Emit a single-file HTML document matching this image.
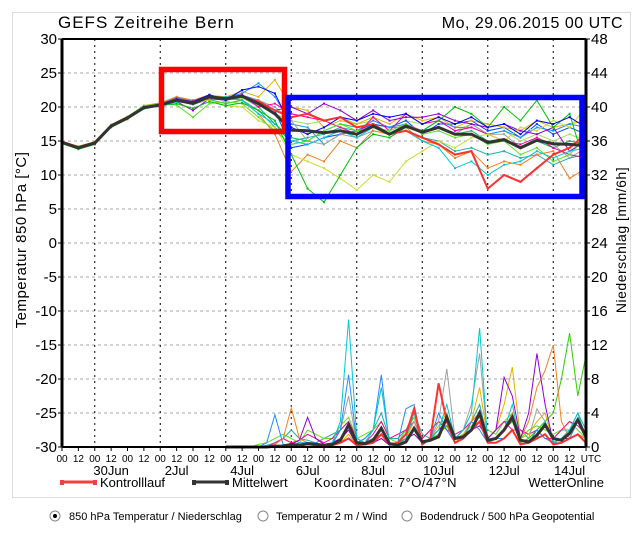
<!DOCTYPE html>
<html><head><meta charset="utf-8">
<style>
body{margin:0;background:#fff;width:643px;height:531px;overflow:hidden;font-family:"Liberation Sans",sans-serif}
svg text{font-family:"Liberation Sans",sans-serif}
</style></head>
<body>
<svg id="chart" width="643" height="531" viewBox="0 0 643 531" xmlns="http://www.w3.org/2000/svg">
<rect x="12.5" y="12.5" width="618" height="485" fill="#fff" stroke="#ddd"/>
<text x="58" y="28" font-size="17" letter-spacing="1">GEFS Zeitreihe Bern</text>
<text x="623" y="28" font-size="16" text-anchor="end" letter-spacing="0.5">Mo, 29.06.2015 00 UTC</text>
<g id="grid"></g>
<g id="series"></g>
<g id="axes"></g>
<rect x="161.5" y="69.5" width="123" height="62" fill="none" stroke="#ff0000" stroke-width="5.5"/>
<rect x="288" y="97.5" width="294" height="99" fill="none" stroke="#0000ff" stroke-width="5.5"/>
<text transform="translate(26,240) rotate(-90)" font-size="15" text-anchor="middle" letter-spacing="0.5">Temperatur 850 hPa [°C]</text>
<text transform="translate(626,240) rotate(-90)" font-size="14" text-anchor="middle" letter-spacing="0.5">Niederschlag [mm/6h]</text>
<g>
<line x1="61" y1="482" x2="95" y2="482" stroke="#f04040" stroke-width="3"/>
<rect x="60" y="480" width="4" height="5" fill="#f04040"/><rect x="93" y="480" width="4" height="5" fill="#f04040"/>
<text x="100" y="487" font-size="13">Kontrolllauf</text></g>
<g>
<line x1="193" y1="482" x2="227" y2="482" stroke="#333" stroke-width="3"/>
<rect x="192" y="480" width="4" height="5" fill="#333"/><rect x="225" y="480" width="4" height="5" fill="#333"/>
<text x="232" y="487" font-size="13">Mittelwert</text></g>
<text x="314" y="487" font-size="13" letter-spacing="0.5">Koordinaten: 7°O/47°N</text>
<text x="604" y="487" font-size="13" text-anchor="end">WetterOnline</text>
<g>
<circle cx="55" cy="516" r="5" fill="#fff" stroke="#888"/><circle cx="55" cy="516" r="2" fill="#000"/>
<text x="69" y="520" font-size="11">850 hPa Temperatur / Niederschlag</text></g>
<g>
<circle cx="263" cy="516" r="5" fill="#fff" stroke="#888"/>
<text x="276" y="520" font-size="11">Temperatur 2 m / Wind</text></g>
<g>
<circle cx="407" cy="516" r="5" fill="#fff" stroke="#888"/>
<text x="420" y="520" font-size="11">Bodendruck / 500 hPa Geopotential</text></g>
</svg>
<script>
const tempTicks=[30,25,20,15,10,5,0,-5,-10,-15,-20,-25,-30];
const precipTicks=[0,4,8,12,16,20,24,28,32,36,40,44,48];
const dayLabels=["30Jun","2Jul","4Jul","6Jul","8Jul","10Jul","12Jul","14Jul"];
const dayLabelDays=[1,3,5,7,9,11,13,15];
// temperature, 12h steps from 29Jun 00 UTC
const tMean=[14.8,14.0,14.7,17.2,18.4,19.9,20.3,21.0,20.5,21.5,21.2,21.6,20.5,19.0,16.6,16.5,16.2,16.5,16.0,17.2,16.0,17.2,16.3,17.0,16.0,16.0,14.8,15.2,14.0,15.1,14.6,14.5,14.3];
const tControl=[14.9,14.1,14.8,17.3,18.5,19.8,20.3,21.1,20.6,21.4,21.3,21.5,20.8,19.5,18.5,19.0,18.0,18.5,17.0,17.5,16.0,16.5,15.5,14.5,13.0,13.5,8.0,10.0,9.0,11.0,13.0,14.0,16.0];
const tBlue=[14.7,14.0,14.6,17.1,18.4,20.0,20.4,21.2,20.8,21.8,21.0,22.5,23.0,22.0,17.0,16.0,17.0,18.5,18.0,19.0,18.5,19.0,17.5,18.5,17.5,18.5,17.0,17.5,16.0,18.0,17.5,18.5,17.0];
const tCyan=[14.8,14.0,14.8,17.2,18.5,20.1,20.0,20.8,20.5,21.3,21.5,21.0,19.0,17.5,15.0,14.5,15.5,16.5,15.5,17.0,16.0,16.5,15.0,14.0,11.0,12.0,10.0,11.5,12.0,13.5,12.5,13.5,14.0];
const tGreen=[14.6,13.8,14.5,17.0,18.2,19.8,20.2,20.5,19.8,20.8,20.2,20.6,19.5,18.0,13.0,8.0,6.0,10.0,14.0,16.0,15.5,17.0,16.5,18.0,20.0,19.0,17.0,20.0,18.0,21.0,17.0,19.0,11.0];
const tLime=[14.8,14.1,14.7,17.3,18.6,20.2,20.5,20.3,18.5,20.5,20.8,20.5,18.5,16.5,14.5,15.0,16.5,17.5,16.5,17.0,16.5,17.5,16.0,16.5,15.5,16.0,14.5,15.0,13.0,14.0,12.0,13.0,15.5];
const tYellowGreen=[14.8,14.0,14.8,17.2,18.4,20.0,20.3,21.0,20.6,21.0,20.2,20.0,18.0,17.0,13.0,12.0,11.0,9.5,7.8,10.0,9.0,12.0,13.5,15.0,14.0,15.5,16.0,15.0,17.0,16.5,18.0,17.0,20.0];
const tOrange=[14.9,14.2,14.9,17.4,18.6,20.2,20.6,21.5,21.0,21.8,21.2,21.0,19.0,16.0,10.5,13.0,12.0,15.0,14.0,16.5,16.0,17.0,15.0,14.5,12.5,13.5,11.0,12.0,11.5,13.0,13.5,9.5,11.0];
const tPurple=[14.7,14.0,14.7,17.2,18.3,19.9,20.1,20.8,19.5,21.2,21.0,21.5,20.5,19.5,20.0,19.0,20.5,19.5,18.0,19.5,18.0,18.5,18.5,19.0,18.0,17.5,17.0,17.5,16.5,16.0,17.0,13.5,15.0];
const tMagenta=[14.8,14.1,14.7,17.2,18.4,20.0,20.4,21.2,20.7,21.6,21.4,21.8,20.0,20.5,19.0,18.5,18.0,17.0,16.0,18.5,16.5,19.0,17.5,18.0,16.5,17.0,16.0,15.0,14.5,15.5,14.0,13.0,12.5];
const tGray=[14.8,14.0,14.7,17.2,18.4,19.9,20.3,21.0,20.6,21.5,21.2,21.6,21.0,20.0,18.0,15.0,14.5,16.0,15.5,16.5,16.0,17.5,16.5,17.0,16.0,17.5,16.0,16.0,14.0,15.5,14.5,12.5,14.0];
const tSky=[14.8,14.0,14.7,17.2,18.4,20.0,20.4,21.4,21.0,21.6,21.4,22.0,23.5,21.5,17.5,17.0,14.5,16.0,16.5,18.0,17.0,17.5,16.5,18.0,17.0,17.0,16.0,16.5,15.5,17.0,16.5,17.5,17.0];
const tTeal=[14.7,14.0,14.6,17.1,18.3,19.8,20.2,20.9,20.4,21.1,20.5,21.0,19.5,17.0,15.0,15.5,16.0,17.0,16.5,17.0,16.0,16.5,15.5,15.0,13.5,14.0,13.0,13.5,12.5,13.0,11.5,12.5,13.0];
const tGold=[14.9,14.2,14.9,17.3,18.5,20.1,20.5,21.3,20.9,21.7,21.5,22.3,21.5,24.0,20.0,19.5,17.0,18.0,17.5,18.5,17.5,19.0,18.0,18.5,17.0,18.0,17.5,17.0,16.5,18.0,17.0,17.5,18.0];
const tSeaGreen=[14.8,14.0,14.7,17.2,18.4,20.0,20.3,21.0,20.6,21.4,21.1,21.5,20.0,17.5,15.5,15.0,16.5,17.5,17.0,17.5,17.0,17.0,16.5,17.0,16.0,16.5,15.0,15.0,14.0,15.0,14.0,15.0,14.5];
const tRoyal=[14.8,14.0,14.7,17.2,18.4,20.0,20.3,21.0,20.6,21.5,21.3,21.7,21.0,19.5,14.0,14.5,15.5,16.0,16.5,17.5,17.0,18.0,16.0,17.5,17.5,18.0,16.5,17.0,15.5,17.5,16.0,17.0,16.0];
const tPale=[14.8,14.1,14.8,17.3,18.5,20.1,20.4,21.1,20.7,21.3,21.0,21.3,20.2,19.0,18.0,17.5,18.0,18.5,17.5,18.0,17.0,18.0,17.5,18.0,16.5,17.5,16.0,16.5,15.0,16.0,15.0,16.0,15.0];
// precipitation, 6h steps from 4Jul 00 UTC
const pMean=[0,0,0,0,0,0,0.1,0.1,0.3,0.2,0.4,0.3,0.2,0.3,0.8,2.6,0.5,0.4,0.8,2.2,0.4,0.2,0.6,2.2,0.6,0.8,1.2,3.5,1.0,1.2,2.0,4.0,0.8,1.0,2.0,3.5,0.8,0.6,1.4,2.6,1.0,0.8,1.6,3.2,1.2];
const pControl=[0,0,0,0,0,0,0,0,0,0.2,0.3,0.2,0,0.2,0.5,1,0.2,0.3,0.5,1.5,0.3,0.5,1.5,4.5,0.3,1,7.5,3,0.5,1,2,3,0.5,0.5,1,2,0.3,0.5,1,1.5,0.3,0.5,1,1.5,0.5];
const pCyan=[0,0,0,0,0,0,0,0,0,0,0.5,0.3,0.2,0.5,3,15,1,0.5,2,7,0.5,0.3,1,4,0.5,1,2,5,1,2,4,14,0.5,1,2,5,0.3,0.5,1,3,0.5,1,2,4,1];
const pBlue=[0,0,0,0,0,0.5,3.8,0.3,0.2,0.5,0.5,0.5,0.2,0.3,2,8.5,0.5,1,2,8.5,0.2,0.5,4.5,5,0.3,1,4,2,0.5,1,3,2,0.5,1,1,2,0.3,0.5,2,1,0.5,0.5,1,3,1];
const pPurple=[0,0,0,0,0,0,0,0,0.3,0.8,3.5,1,0.3,0.5,1,2,0.2,0.3,0.5,1,0.2,0.3,1,1.5,0.5,1,2,3,0.5,1,2,2.5,1,2,8.2,6,1,4,11,5,0.5,1,1,1.5,0.5];
const pOrange=[0,0,0,0,0,0,0.3,1,4.6,1,0.5,0.3,0.2,0.3,0.8,2,0.2,0.3,0.5,1,0.5,0.3,1,2,0.5,1,2,3,0.5,1,3,4,0.5,1,2,4,1,3,7,9,12,3,1,1.5,1];
const pGreen=[0,0,0,0,0,0,0,0,0,0.3,0.5,0.5,0.2,0.3,1,2,0.3,0.5,1,1.5,0.2,0.5,1,2,0.5,1,1.5,2.5,0.5,1,2,3,0.5,1,2,3,0.5,1,2,3,4,8,13.4,6,10.8];
const pGray=[0,0,0,0,0,0,0,0,0,0.2,0.3,0.3,0.2,0.5,2,6,0.3,0.5,1,2,0.2,0.5,1.5,3,0.5,1,3,9.2,1,2,5,11,0.5,1,2,4,0.5,1,4.5,3,0.5,1,2,3,1];
const pGold=[0,0,0,0,0,0,0,0,0,0.3,0.5,0.3,0.2,0.3,0.5,1.5,0.2,0.5,1,2,0.3,0.5,1,3,0.5,1,2.5,4,0.5,1.5,3,7,1,2,5,9.4,1,1.5,3,4,0.5,1,2,3,1];
const pMagenta=[0,0,0,0,0,0,0.5,1,0.5,0.8,1.5,1,0.5,1,2,3,1,0.5,1.5,3,1,1.5,2,3,1,2,3,2,1.5,2,3,4,1,2,3,2,2,1.5,2,1,1,2,3,2.5,1.5];
const pLime=[0,0,0,0,0.3,0.5,1,1.5,1,0.5,2,1.5,1,1,2.5,3.5,1,1.5,2,3,1,0.5,2,3.5,1,2,3,2.5,1,1.5,2.5,3.5,2,1.5,3,4,1,2,2.5,2,1.5,2,3,2,1];
const pTeal=[0,0,0,0,0,0.2,0.5,1,2,1,0.8,0.5,1,1.5,2,3,0.5,1,2,4,1,1,2,4,1.5,1,2,3,1,2,3,5,1,2,3,3,2,1,2,3,1,2,2,4,2];

const X0=62,X1=586,Y0=39,Y1=447,DAYS=16;
const xDay=d=>X0+(X1-X0)*d/DAYS;
const yT=v=>Y0+(30-v)*(Y1-Y0)/60;
const yP=v=>Y1-v*(Y1-Y0)/48;
const NS="http://www.w3.org/2000/svg";
function mk(tag,attrs,parent){const e=document.createElementNS(NS,tag);for(const k in attrs)e.setAttribute(k,attrs[k]);parent.appendChild(e);return e;}
const grid=document.getElementById('grid'),ser=document.getElementById('series'),axes=document.getElementById('axes');

tempTicks.forEach((v,i)=>{
  const y=yT(v);
  if(v!==30&&v!==-30){const g=mk('line',{x1:X0,x2:X1,y1:y,y2:y,stroke:'#aaa','stroke-dasharray':'3,3'},grid);
  
  }
  const t=mk('text',{x:57,y:y+5,'font-size':15,'text-anchor':'end'},axes);t.textContent=v;
  
  
  mk('line',{x1:X0-4,x2:X0,y1:y,y2:y,stroke:'#000'},axes);
});
precipTicks.forEach(v=>{
  const y=yP(v);
  const t=mk('text',{x:591,y:y+5,'font-size':15},axes);t.textContent=v;
  
  
  mk('line',{x1:X1,x2:X1+4,y1:y,y2:y,stroke:'#000'},axes);
});
for(let d=1;d<DAYS;d+=2){const x=xDay(d);
  const g=mk('line',{x1:x,x2:x,y1:Y0,y2:Y1,stroke:'#000','stroke-dasharray':'2,4'},grid);
  
  
}
for(let i=0;i<=32;i++){const x=xDay(i/2);
  mk('line',{x1:x,x2:x,y1:Y1,y2:Y1+4,stroke:'#000'},axes);
  const t=mk('text',{x:i===32?x+5:x,y:Y1+15,'font-size':10,'text-anchor':'middle'},axes);
  t.textContent=i===32?'UTC':(i%2===0?'00':'12');
  
  
}
dayLabels.forEach((l,i)=>{
  const t=mk('text',{x:xDay(dayLabelDays[i]+0.5),y:Y1+28,'font-size':13,'text-anchor':'middle'},axes);t.textContent=l;
  
  
});
mk('line',{x1:X0,x2:X1,y1:Y0,y2:Y0,stroke:'#000','stroke-width':2},axes);
mk('line',{x1:X0,x2:X1,y1:Y1,y2:Y1,stroke:'#000','stroke-width':2},axes);
mk('line',{x1:X0,x2:X0,y1:Y0,y2:Y1,stroke:'#000','stroke-width':3},axes);
mk('line',{x1:X1,x2:X1,y1:Y0,y2:Y1,stroke:'#000','stroke-width':3},axes);

function drawT(arr,color,w,name){
  const pts=arr.map((v,i)=>xDay(i/2).toFixed(1)+','+yT(v).toFixed(1)).join(' ');
  const p=mk('polyline',{points:pts,fill:'none',stroke:color,'stroke-width':w},ser);
  
  
  arr.forEach((v,i)=>mk('rect',{x:xDay(i/2)-1,y:yT(v)-1,width:2,height:2,fill:color},ser));
}
function drawP(arr,color,w,name){
  const pts=arr.map((v,i)=>xDay(5+i/4).toFixed(1)+','+yP(v).toFixed(1)).join(' ');
  const p=mk('polyline',{points:pts,fill:'none',stroke:color,'stroke-width':w},ser);
  
  
}
const tMembers=[[tPale,'#a0e060'],[tSeaGreen,'#00c060'],[tRoyal,'#0050ff'],[tGold,'#e8b000'],[tTeal,'#20b2aa'],[tSky,'#1e90ff'],[tGray,'#a0a0a0'],[tMagenta,'#ff00a0'],[tPurple,'#9400d3'],[tOrange,'#f08020'],[tYellowGreen,'#c8e030'],[tLime,'#60e020'],[tGreen,'#00c000'],[tCyan,'#00c8d0'],[tBlue,'#0000ff']];
tMembers.forEach(m=>drawT(m[0],m[1],1,'temp-member-line'));
const pMembers=[[pTeal,'#20b2aa'],[pLime,'#60e020'],[pMagenta,'#ff00a0'],[pGold,'#e8b000'],[pGray,'#a0a0a0'],[pGreen,'#30d000'],[pOrange,'#f08020'],[pPurple,'#9400d3'],[pBlue,'#1e90ff'],[pCyan,'#00c8d0']];
pMembers.forEach(m=>drawP(m[0],m[1],1,'precip-member-line'));
drawP(pControl,'#ff3030',2,'precip-control-line');
drawP(pMean,'#333',3,'precip-mean-line');
drawT(tControl,'#ff3030',2,'temp-control-line');
drawT(tMean,'#333',3,'temp-mean-line');
</script>
</body></html>
